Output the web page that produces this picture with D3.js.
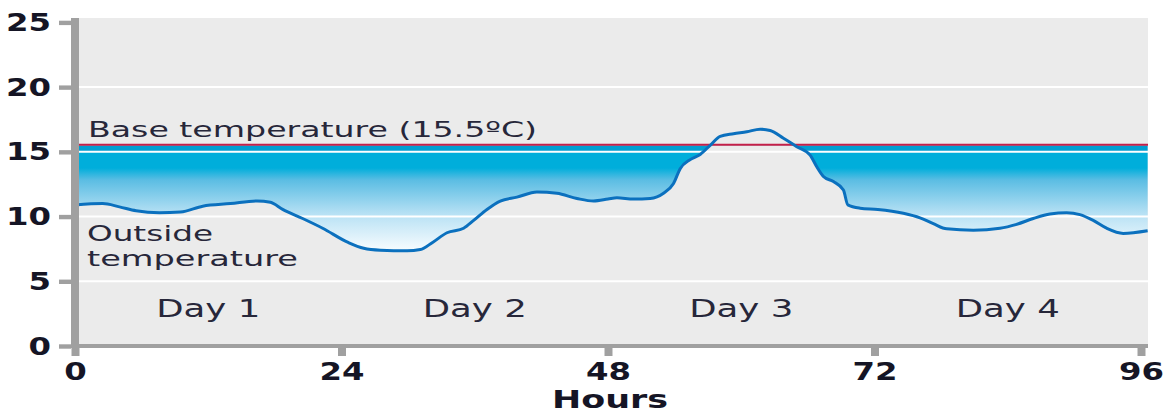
<!DOCTYPE html>
<html>
<head>
<meta charset="utf-8">
<script src="https://cdn.jsdelivr.net/npm/d3@7"></script>
<style>
  html, body { margin: 0; padding: 0; background: #ffffff; }
  svg { display: block; }
  text { font-family: "DejaVu Sans", Verdana, sans-serif; }
</style>
</head>
<body>
<script>
// ---------------- data ----------------
const hours = [0, 2.5, 4, 5.5, 7.6, 9.5, 11.5, 14, 16.4, 17.6, 18.7, 20.5, 22.3, 24.6, 26, 27.5, 29.9, 31.1, 32.2, 33.5,
  35, 35.9, 37.1, 38.3, 39.8, 41.6, 43.4, 45.2, 46.7, 48, 48.8, 50.3, 51.8, 53, 53.9, 54.5, 55.4, 56.3, 57.2, 58.1,
  59.3, 60.5, 61.7, 62.6, 63.8, 65, 66.2, 66.8, 67.4, 68.3, 69.2, 69.6, 70.7, 72.3, 74.6, 76.1, 77.3, 78.5, 80.9, 83.3,
  84.8, 86.3, 87.8, 89.3, 90.5, 91.7, 92.9, 94.4, 96.6];
const temps = [10.9, 11.0, 10.75, 10.45, 10.3, 10.35, 10.8, 11.0, 11.2, 11.1, 10.55, 9.85, 9.1, 8.0, 7.55, 7.4, 7.35, 7.45, 8.0, 8.75,
  9.1, 9.7, 10.55, 11.2, 11.5, 11.9, 11.8, 11.4, 11.2, 11.35, 11.45, 11.35, 11.4, 11.8, 12.55, 13.7, 14.4, 14.8, 15.5, 16.2,
  16.4, 16.55, 16.75, 16.65, 16.05, 15.4, 14.75, 13.85, 13.1, 12.7, 12.05, 10.9, 10.65, 10.55, 10.25, 9.9, 9.45, 9.05, 8.95, 9.1,
  9.4, 9.85, 10.2, 10.3, 10.15, 9.7, 9.1, 8.7, 8.9];
const baseTemp = 15.5;
const yTicks = [0, 5, 10, 15, 20, 25];
const xTicks = [0, 24, 48, 72, 96];
const gridValues = [5, 10, 15, 20];
const dayLabels = ["Day 1", "Day 2", "Day 3", "Day 4"];
const dayCenters = [12, 36, 60, 84];
const baseLabel = "Base temperature (15.5ºC)";
const seriesLabel = ["Outside", "temperature"];
const xTitle = "Hours";

// ---------------- layout ----------------
const W = 1167, H = 414;
const x = d3.scaleLinear().domain([0, 96]).range([75, 1141]);
const y = d3.scaleLinear().domain([0, 25]).range([346, 22.4]);
const plotRight = 1148, plotTop = 18, plotBottom = 346;

const data = hours.map((h, i) => ({ h, t: temps[i] }));

const svg = d3.select("body").append("svg").attr("width", W).attr("height", H);
const defs = svg.append("defs");

// gradient for the fill under base temperature
const yb = y(baseTemp), yw = y(7);
const off = p => (p - yb) / (yw - yb);
const grad = defs.append("linearGradient").attr("id", "fillGrad")
  .attr("gradientUnits", "userSpaceOnUse").attr("x1", 0).attr("x2", 0).attr("y1", yb).attr("y2", yw);
[[yb, "#009ed2"], [y(15) - 1, "#009ed2"], [y(15) - 0.5, "#00aedb"], [168, "#00aedb"], [180, "#5bbde3"],
 [213, "#b5e0f4"], [245, "#eef8fd"], [yw, "#ffffff"]].forEach(([p, c]) => {
  grad.append("stop").attr("offset", Math.max(0, Math.min(1, off(p)))).attr("stop-color", c);
});

defs.append("clipPath").attr("id", "belowBase").append("rect")
  .attr("x", x(0)).attr("y", yb).attr("width", plotRight - x(0)).attr("height", plotBottom - yb);

// background
svg.append("rect").attr("x", x(0)).attr("y", plotTop).attr("width", plotRight - x(0)).attr("height", plotBottom - plotTop)
  .attr("fill", "#ebebeb");

// fill between curve and base temperature
const area = d3.area().x(d => x(d.h)).y0(d => y(d.t)).y1(yb).curve(d3.curveMonotoneX);
svg.append("path").datum(data).attr("d", area).attr("fill", "url(#fillGrad)").attr("clip-path", "url(#belowBase)");

// gridlines
svg.append("g").selectAll("line").data(gridValues).join("line")
  .attr("x1", x(0)).attr("x2", plotRight).attr("y1", d => y(d)).attr("y2", d => y(d))
  .attr("stroke", "#ffffff").attr("stroke-width", 2);

// base temperature line
svg.append("line").attr("x1", x(0)).attr("x2", plotRight).attr("y1", yb - 0.5).attr("y2", yb - 0.5)
  .attr("stroke", "#c41f48").attr("stroke-width", 2);

// outside temperature curve
const line = d3.line().x(d => x(d.h)).y(d => y(d.t)).curve(d3.curveMonotoneX);
svg.append("path").datum(data).attr("d", line).attr("fill", "none")
  .attr("stroke", "#0b70be").attr("stroke-width", 3).attr("stroke-linejoin", "round");

// axes
const axisColor = "#a0a0a0";
const yAxis = svg.append("g").attr("transform", "translate(71,0)")
  .call(d3.axisLeft(y).tickValues(yTicks).tickSize(12).tickPadding(8).tickFormat(d3.format("d")));
yAxis.select(".domain").remove();
yAxis.selectAll(".tick line").attr("stroke", axisColor).attr("stroke-width", 4.4);
yAxis.selectAll(".tick text").attr("font-size", 25).attr("font-weight", "bold").attr("fill", "#151525")
  .attr("font-family", "DejaVu Sans, sans-serif")
  .attr("textLength", d => String(d).length * 22.5).attr("lengthAdjust", "spacingAndGlyphs");

const xAxis = svg.append("g").attr("transform", "translate(0,348)")
  .call(d3.axisBottom(x).tickValues(xTicks).tickSize(8).tickPadding(6).tickFormat(d3.format("d")));
xAxis.select(".domain").remove();
xAxis.selectAll(".tick line").attr("stroke", axisColor).attr("stroke-width", 8);
xAxis.selectAll(".tick text").attr("font-size", 25).attr("font-weight", "bold").attr("fill", "#151525")
  .attr("font-family", "DejaVu Sans, sans-serif")
  .attr("textLength", d => String(d).length * 22.5).attr("lengthAdjust", "spacingAndGlyphs");

svg.append("line").attr("x1", 75).attr("x2", 75).attr("y1", plotTop).attr("y2", 348)
  .attr("stroke", axisColor).attr("stroke-width", 8);
svg.append("line").attr("x1", 71).attr("x2", plotRight).attr("y1", 346).attr("y2", 346)
  .attr("stroke", axisColor).attr("stroke-width", 4);

// labels
const labelColor = "#27273a";
svg.append("text").attr("x", 88).attr("y", 137).attr("font-size", 21).attr("fill", labelColor)
  .attr("textLength", 449).attr("lengthAdjust", "spacingAndGlyphs").text(baseLabel);
svg.append("text").attr("x", 87).attr("y", 241).attr("font-size", 21).attr("fill", labelColor)
  .attr("textLength", 126).attr("lengthAdjust", "spacingAndGlyphs").text(seriesLabel[0]);
svg.append("text").attr("x", 87).attr("y", 266).attr("font-size", 21).attr("fill", labelColor)
  .attr("textLength", 211).attr("lengthAdjust", "spacingAndGlyphs").text(seriesLabel[1]);

svg.append("g").selectAll("text").data(dayLabels).join("text")
  .attr("x", (d, i) => x(dayCenters[i])).attr("y", 317).attr("text-anchor", "middle")
  .attr("font-size", 24).attr("fill", labelColor)
  .attr("textLength", 104).attr("lengthAdjust", "spacingAndGlyphs").text(d => d);

svg.append("text").attr("x", 610).attr("y", 408).attr("text-anchor", "middle")
  .attr("font-size", 25).attr("font-weight", "bold").attr("fill", "#151525")
  .attr("textLength", 116).attr("lengthAdjust", "spacingAndGlyphs").text(xTitle);
</script>
</body>
</html>
